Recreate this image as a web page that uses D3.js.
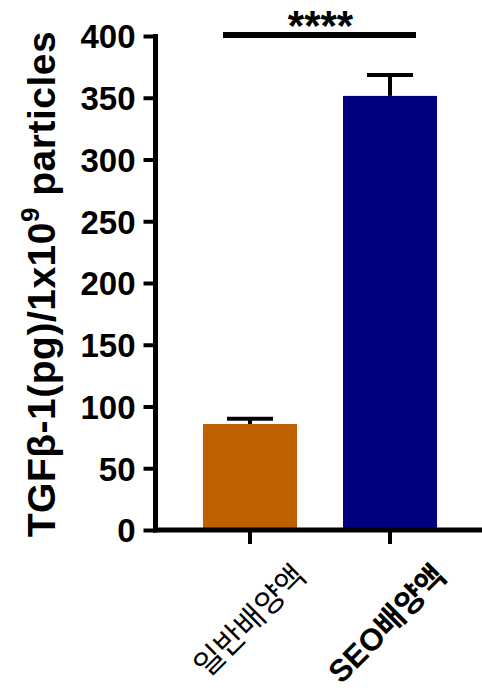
<!DOCTYPE html>
<html><head><meta charset="utf-8">
<script src="https://cdn.jsdelivr.net/npm/d3@7"></script>
<style>body{margin:0;background:#fff}svg{display:block}</style>
</head><body>
<script>
const categories = ["일반배양액", "SEO배양액"];
const means = [85.8, 351.5];
const errors = [4.2, 17];
const barColors = ["#C06000", "#000080"];
const yTicks = [0, 50, 100, 150, 200, 250, 300, 350, 400];
const significance = "****";
const yLabel = "TGFβ-1(pg)/1x10";

const W = 482, H = 697;
const svg = d3.select("body").append("svg").attr("width", W).attr("height", H);
const font = "'Liberation Sans', Arial, 'Noto Sans CJK KR', sans-serif";

const y = d3.scaleLinear().domain([0, 400]).range([530, 36]);
const x = d3.scaleBand().domain(categories).range([156, 484]).paddingInner(0.3286).paddingOuter(0.3357);

// bars
svg.selectAll("rect.bar").data(categories).join("rect")
  .attr("x", d => x(d)).attr("width", x.bandwidth())
  .attr("y", (d, i) => y(means[i])).attr("height", (d, i) => y(0) - y(means[i]))
  .attr("fill", (d, i) => barColors[i]);

// error bars
const cx = d => x(d) + x.bandwidth() / 2;
categories.forEach((d, i) => {
  svg.append("line").attr("x1", cx(d)).attr("x2", cx(d))
    .attr("y1", y(means[i])).attr("y2", y(means[i] + errors[i]))
    .attr("stroke", "#000").attr("stroke-width", 4);
  svg.append("line").attr("x1", cx(d) - 23).attr("x2", cx(d) + 23)
    .attr("y1", y(means[i] + errors[i])).attr("y2", y(means[i] + errors[i]))
    .attr("stroke", "#000").attr("stroke-width", 4);
});

// y axis
const yAxis = svg.append("g").attr("transform", "translate(155.5,0)")
  .call(d3.axisLeft(y).tickValues(yTicks).tickSize(12).tickPadding(8));
yAxis.select(".domain").attr("stroke-width", 5).attr("d", `M0,${y(400)-2}V${y(0)+2.5}`);
yAxis.selectAll(".tick line").attr("stroke-width", 4);
yAxis.selectAll(".tick text").attr("font-family", font).attr("font-size", 33)
  .attr("font-weight", "bold").attr("fill", "#000").attr("dy", "0.36em");

// x axis
const xAxis = svg.append("g").attr("transform", `translate(0,${y(0)})`)
  .call(d3.axisBottom(x).tickSize(14).tickFormat(""));
xAxis.select(".domain").attr("stroke-width", 5).attr("d", `M153,0H${W}`);
xAxis.selectAll(".tick line").attr("stroke-width", 4);

// x labels
categories.forEach((d, i) => {
  svg.append("text")
    .attr("transform", `translate(${cx(d) + 58},${y(0) + 48}) rotate(-45)`)
    .attr("text-anchor", "end")
    .attr("font-family", font).attr("font-size", 31)
    .attr("font-weight", i === 1 ? "bold" : "normal")
    .text(d);
});

// significance
const sx1 = 223, sx2 = 416;
svg.append("line").attr("x1", sx1).attr("x2", sx2).attr("y1", 35).attr("y2", 35)
  .attr("stroke", "#000").attr("stroke-width", 6);
svg.append("text").attr("x", (sx1 + sx2) / 2 + 1).attr("y", 40).attr("text-anchor", "middle")
  .attr("font-family", font).attr("font-size", 42).attr("font-weight", "bold").text(significance);

// y label
const yl = svg.append("text")
  .attr("transform", `translate(55,284) rotate(-90)`)
  .attr("text-anchor", "middle")
  .attr("font-family", font).attr("font-size", 39).attr("font-weight", "bold")
  .attr("letter-spacing", 0.5);
yl.append("tspan").text(yLabel);
yl.append("tspan").attr("font-size", 26).attr("dy", -16).text("9");
yl.append("tspan").attr("dy", 16).text(" particles");
</script>
</body></html>
